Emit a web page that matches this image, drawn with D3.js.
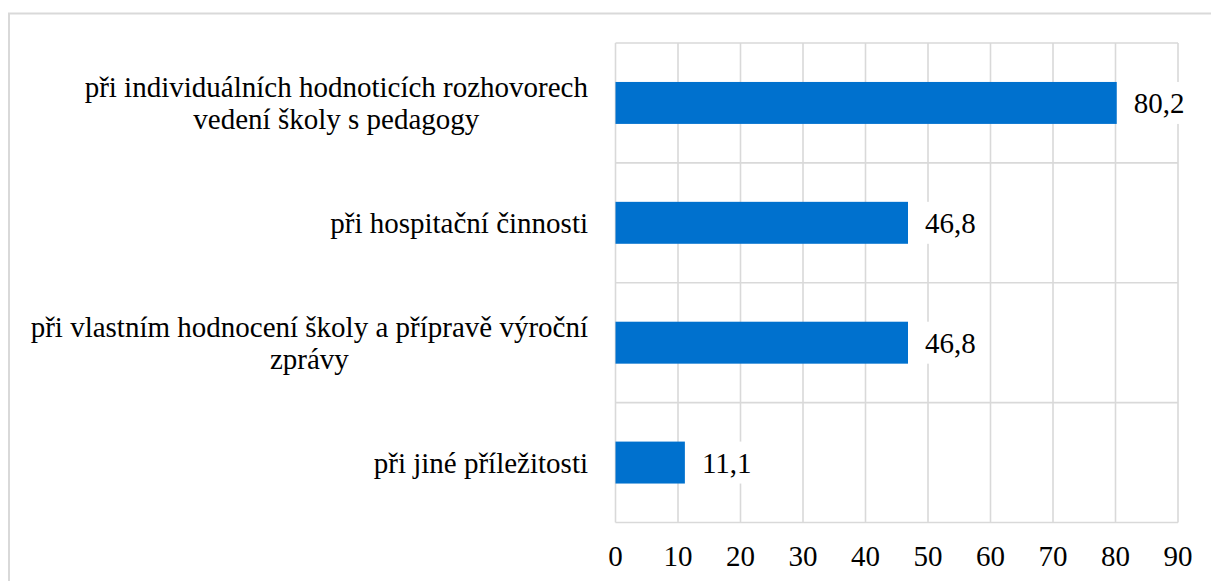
<!DOCTYPE html>
<html><head><meta charset="utf-8">
<script src="https://cdn.jsdelivr.net/npm/d3@7"></script>
<style>
html,body{margin:0;padding:0;background:#fff;}
svg{display:block;}
</style></head>
<body>
<svg id="chart" width="1211" height="581"></svg>
<script>
const categories = [
  ["při individuálních hodnoticích rozhovorech", "vedení školy s pedagogy"],
  ["při hospitační činnosti"],
  ["při vlastním hodnocení školy a přípravě výroční", "zprávy"],
  ["při jiné příležitosti"]
];
const values = [80.2, 46.8, 46.8, 11.1];
const valueLabels = ["80,2", "46,8", "46,8", "11,1"];
const ticks = [0, 10, 20, 30, 40, 50, 60, 70, 80, 90];

(function () {
const pLeft = 615.5, pRight = 1178, pTop = 43, pBottom = 522.5;
const fs = 29;
const FONT = "Liberation Serif";
const svg = d3.select("#chart");

// outer border
svg.append("rect").attr("x", 9).attr("y", 13.5).attr("width", 1230).attr("height", 620)
  .attr("fill", "none").attr("stroke", "#d9d9d9").attr("stroke-width", 2);

const x = d3.scaleLinear().domain([0, 90]).range([pLeft, pRight]);
const y = d3.scaleBand().domain(d3.range(categories.length)).range([pTop, pBottom]).padding(0);
const barH = y.bandwidth() * 0.35;

const g = svg.append("g");
g.selectAll("line.v").data(ticks).enter().append("line")
  .attr("x1", d => x(d)).attr("x2", d => x(d)).attr("y1", pTop).attr("y2", pBottom)
  .attr("stroke", "#d9d9d9").attr("stroke-width", 1.6);
const hs = d3.range(categories.length + 1).map(i => i < categories.length ? y(i) : pBottom);
g.selectAll("line.h").data(hs).enter().append("line")
  .attr("x1", pLeft).attr("x2", pRight).attr("y1", d => d).attr("y2", d => d)
  .attr("stroke", "#d9d9d9").attr("stroke-width", 1.6);

g.selectAll("rect.bar").data(values).enter().append("rect")
  .attr("x", x(0)).attr("width", d => x(d) - x(0))
  .attr("y", (d, i) => y(i) + (y.bandwidth() - barH) / 2).attr("height", barH)
  .attr("fill", "#0071ce");

values.forEach((v, i) => {
  const cy = y(i) + y.bandwidth() / 2;
  const lg = svg.append("g");
  const bg = lg.append("rect").attr("fill", "#fff");
  const t = lg.append("text").attr("x", x(v) + 17).attr("y", cy).attr("dy", "0.35em")
    .attr("font-size", fs).attr("font-family", FONT).text(valueLabels[i]);
  const w = t.node().getComputedTextLength();
  bg.attr("x", x(v) + 9).attr("width", w + 16).attr("y", cy - barH / 2).attr("height", barH);
});

const labelRight = 588;
const lineH = 32;
categories.forEach((lines, i) => {
  const cy = y(i) + y.bandwidth() / 2;
  const t = svg.append("text").attr("font-size", fs).attr("text-anchor", "middle").attr("font-family", FONT);
  const spans = lines.map((ln) => t.append("tspan").text(ln));
  const widths = spans.map(s => s.node().getComputedTextLength());
  const maxW = d3.max(widths);
  const cx = labelRight - maxW / 2;
  const n = lines.length;
  spans.forEach((s, j) => {
    s.attr("x", cx).attr("y", cy + (j - (n - 1) / 2) * lineH).attr("dy", "0.35em");
  });
});

svg.selectAll("text.tick").data(ticks).enter().append("text")
  .attr("x", d => x(d)).attr("y", 566).attr("text-anchor", "middle")
  .attr("font-size", fs).attr("font-family", FONT).text(d => d);
})();
</script>
</body></html>
